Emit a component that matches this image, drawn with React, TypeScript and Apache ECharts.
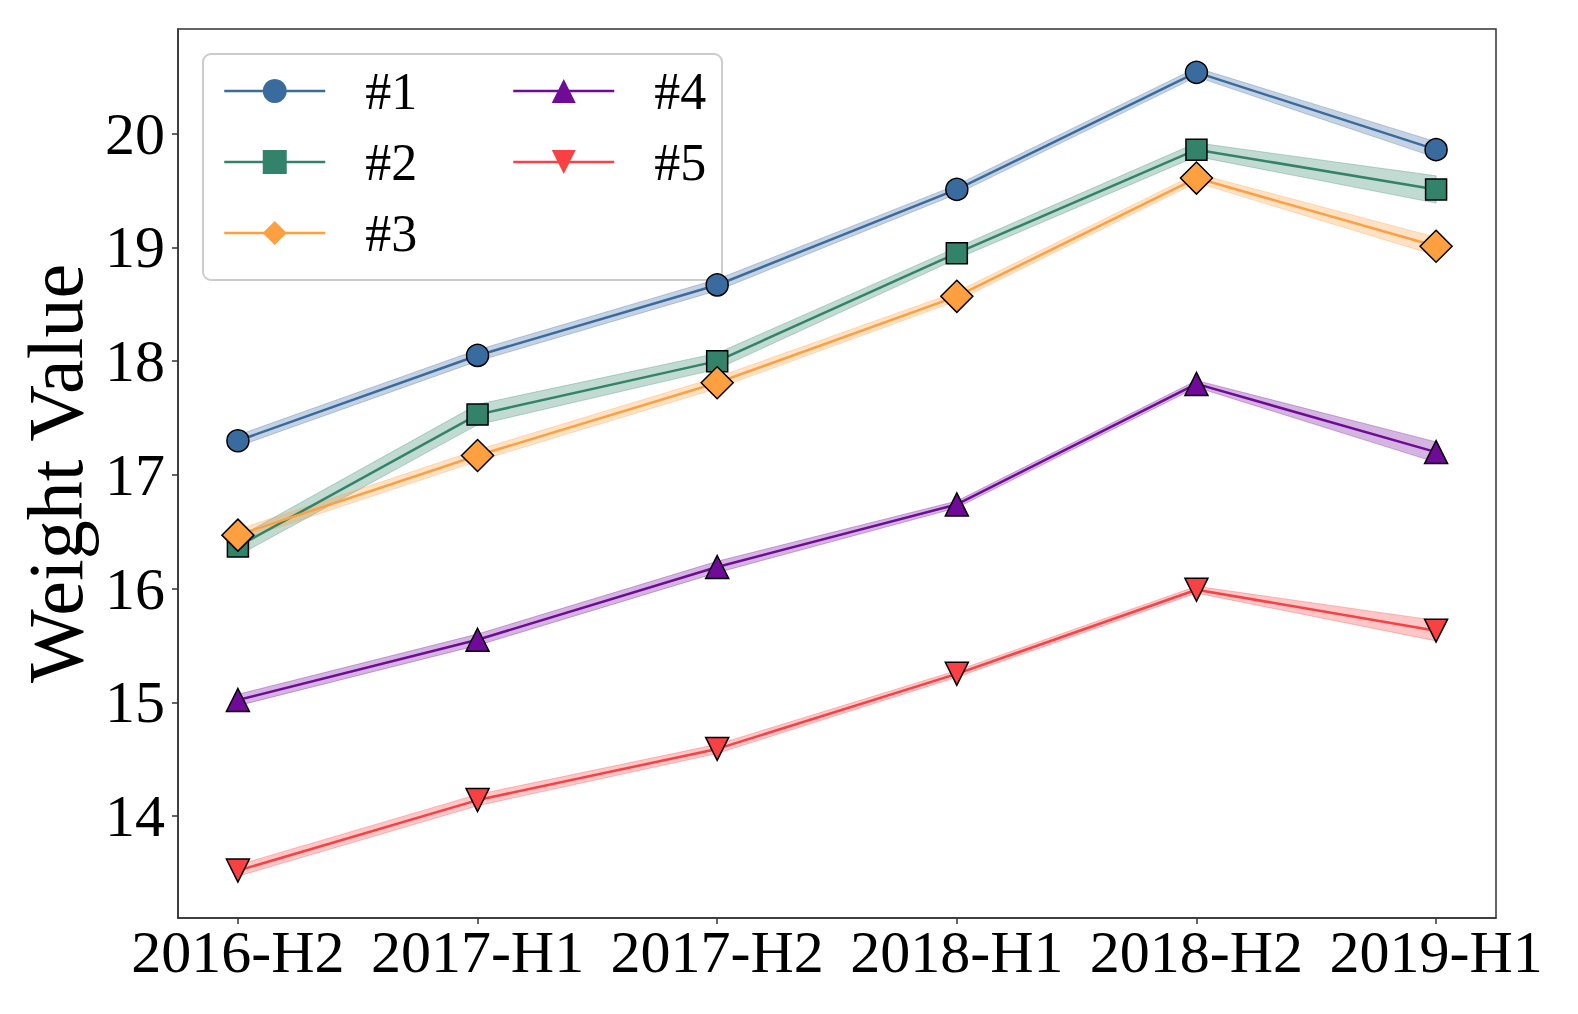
import React, { useEffect, useRef } from "react";
import * as echarts from "echarts";

// ---- data ----
const categories = ["2016-H2", "2017-H1", "2017-H2", "2018-H1", "2018-H2", "2019-H1"];
const yTickValues = [14, 15, 16, 17, 18, 19, 20];
const seriesNames = ["#1", "#2", "#3", "#4", "#5"];

const mean1 = [17.30, 18.05, 18.67, 19.51, 20.54, 19.86];
const mean2 = [16.37, 17.53, 18.00, 18.95, 19.86, 19.51];
const mean3 = [16.47, 17.17, 17.81, 18.57, 19.61, 19.01];
const mean4 = [15.02, 15.55, 16.19, 16.74, 17.80, 17.20];
const mean5 = [13.52, 14.14, 14.59, 15.25, 15.99, 15.63];

// half-widths of the shaded bands
const err1 = [0.05, 0.05, 0.05, 0.04, 0.04, 0.07];
const err2 = [0.08, 0.09, 0.07, 0.05, 0.06, 0.12];
const err3 = [0.05, 0.05, 0.05, 0.04, 0.04, 0.08];
const err4 = [0.05, 0.05, 0.05, 0.03, 0.03, 0.09];
const err5 = [0.05, 0.05, 0.04, 0.03, 0.03, 0.09];

const means = [mean1, mean2, mean3, mean4, mean5];
const errs = [err1, err2, err3, err4, err5];

// ---- styling ----
const colors = ["#3A6B9F", "#33836A", "#FFA040", "#700A98", "#F94144"];
const symbols = ["circle", "rect", "diamond", "triangle", "triangle"];
const symbolSizes: any[] = [22, 21, 32, 23, 23];
const symbolRotates = [0, 0, 0, 0, 180];
const FONT = "'Liberation Serif', 'Times New Roman', 'DejaVu Serif', serif";

function rgba(hex: string, a: number) {
  const n = parseInt(hex.slice(1), 16);
  return `rgba(${(n >> 16) & 255},${(n >> 8) & 255},${n & 255},${a})`;
}

export default function App() {
  const ref = useRef<HTMLDivElement>(null);

  useEffect(() => {
    if (!ref.current) return;
    const chart = echarts.init(ref.current, undefined, { renderer: "svg" });

    const series: any[] = [];
    seriesNames.forEach((name, k) => {
      const m = means[k];
      const e = errs[k];
      const color = colors[k];
      series.push({
        type: "custom",
        name: name + " band",
        silent: true,
        data: categories.map((_, i) => [i, m[i] - e[i], m[i] + e[i]]),
        encode: { x: 0, y: [1, 2] },
        renderItem: (params: any, api: any) => {
          if (params.dataIndex !== 0) return null;
          const upper = categories.map((_, i) => api.coord([i, m[i] + e[i]]));
          const lower = categories.map((_, i) => api.coord([i, m[i] - e[i]])).reverse();
          return {
            type: "polygon",
            shape: { points: upper.concat(lower) },
            style: { fill: rgba(color, 0.3), stroke: rgba(color, 0.3), lineWidth: 1 },
          };
        },
      });
      series.push({
        type: "line",
        name,
        data: categories.map((_, i) => [i, m[i]]),
        symbol: symbols[k],
        symbolSize: symbolSizes[k],
        symbolRotate: symbolRotates[k],
        lineStyle: { color, width: 2.5 },
        itemStyle: { color, borderColor: "#000", borderWidth: 1.5 },
        emphasis: { disabled: true },
      });
    });

    const legendCommon = {
      orient: "vertical",
      padding: 0,
      itemWidth: 101,
      itemHeight: 30,
      itemGap: 19,
      top: 65,
      selectedMode: false,
      itemStyle: { borderWidth: 0 },
      lineStyle: { width: 2.5 },
      textStyle: {
        fontFamily: FONT,
        fontSize: 52,
        color: "#000",
        padding: [0, 0, 0, 35],
      },
      z: 5,
    };

    chart.setOption({
      animation: false,
      backgroundColor: "#fff",
      grid: {
        left: 178,
        top: 29,
        right: 82,
        bottom: 96,
        show: true,
        borderColor: "#333",
        borderWidth: 1.5,
        backgroundColor: "transparent",
      },
      legend: [
        { ...legendCommon, left: 223, data: seriesNames.slice(0, 3) },
        { ...legendCommon, left: 512, data: seriesNames.slice(3) },
      ],
      graphic: [
        {
          type: "rect",
          z: 3,
          silent: true,
          shape: { x: 203, y: 54, width: 519, height: 226, r: 8 },
          style: { fill: "rgba(255,255,255,0.8)", stroke: "#cccccc", lineWidth: 2 },
        },
      ],
      xAxis: {
        type: "value",
        min: -0.25,
        max: 5.25,
        splitLine: { show: false },
        axisLine: { show: true, onZero: false, lineStyle: { color: "#333", width: 1.5 } },
        axisTick: {
          show: true,
          length: 6,
          customValues: categories.map((_, i) => i),
          lineStyle: { color: "#333", width: 1.5 },
        },
        axisLabel: {
          customValues: categories.map((_, i) => i),
          formatter: (v: number) => categories[Math.round(v)] ?? "",
          fontFamily: FONT,
          fontSize: 60,
          color: "#000",
          margin: 4,
        },
      },
      yAxis: {
        type: "value",
        min: 13.103,
        max: 20.921,
        name: "Weight Value",
        nameLocation: "middle",
        nameRotate: 90,
        nameGap: 84,
        nameTextStyle: { fontFamily: FONT, fontSize: 78, color: "#000" },
        splitLine: { show: false },
        axisLine: { show: true, onZero: false, lineStyle: { color: "#333", width: 1.5 } },
        axisTick: {
          show: true,
          length: 6,
          customValues: yTickValues,
          lineStyle: { color: "#333", width: 1.5 },
        },
        axisLabel: {
          customValues: yTickValues,
          formatter: (v: number) => String(Math.round(v)),
          fontFamily: FONT,
          fontSize: 60,
          color: "#000",
          margin: 13,
        },
      },
      series,
    });

    return () => chart.dispose();
  }, []);

  return (
    <div
      ref={ref}
      style={{ position: "fixed", left: 0, top: 0, width: 1578, height: 1014, background: "#fff" }}
    />
  );
}
